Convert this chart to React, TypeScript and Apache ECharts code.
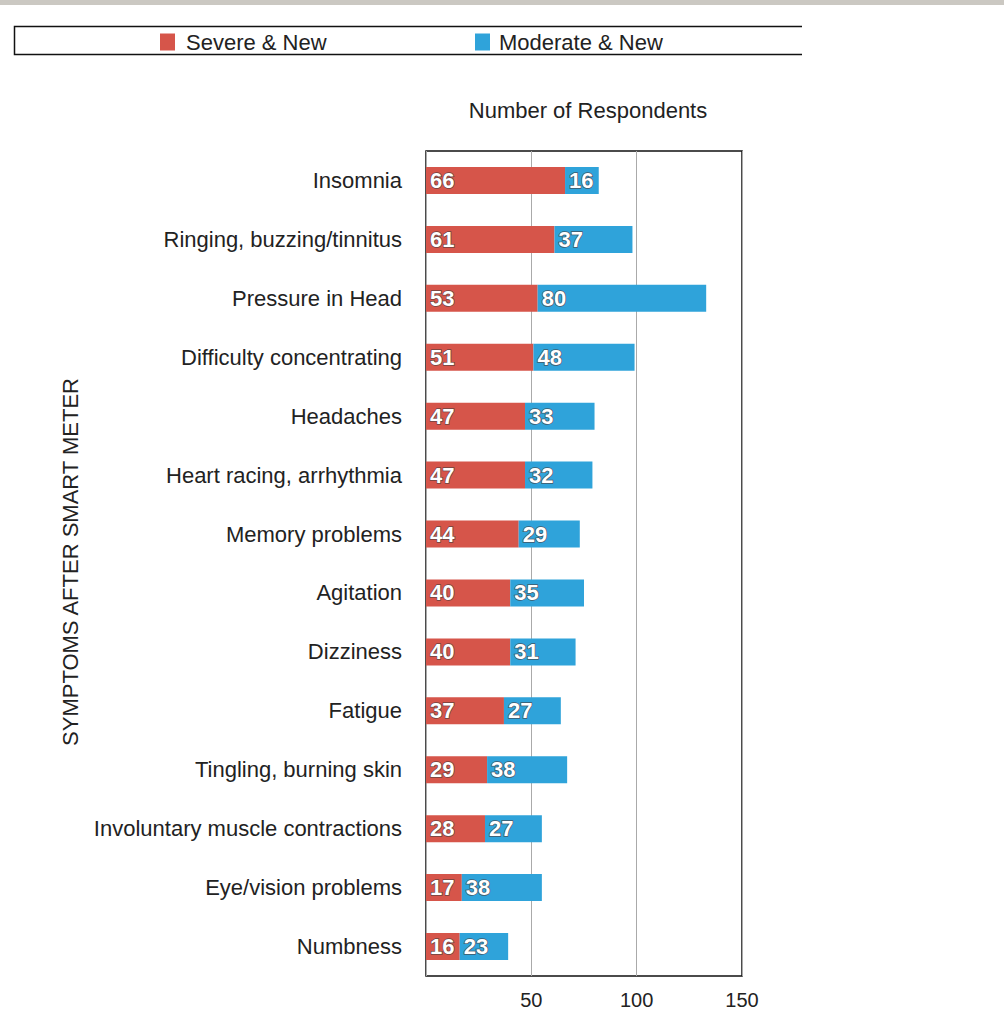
import React, { useEffect, useRef } from "react";
import * as echarts from "echarts";

const categories = [
  "Insomnia",
  "Ringing, buzzing/tinnitus",
  "Pressure in Head",
  "Difficulty concentrating",
  "Headaches",
  "Heart racing, arrhythmia",
  "Memory problems",
  "Agitation",
  "Dizziness",
  "Fatigue",
  "Tingling, burning skin",
  "Involuntary muscle contractions",
  "Eye/vision problems",
  "Numbness",
];
const severeNew = [66, 61, 53, 51, 47, 47, 44, 40, 40, 37, 29, 28, 17, 16];
const moderateNew = [16, 37, 80, 48, 33, 32, 29, 35, 31, 27, 38, 27, 38, 23];
const xTicks = { min: 0, max: 150, interval: 50 };

const FONT = "'Liberation Sans', Arial, sans-serif";
const RED = "#d6554a";
const BLUE = "#2fa3da";

export default function App() {
  const ref = useRef<HTMLDivElement>(null);
  useEffect(() => {
    document.body.style.margin = "0";
    const chart = echarts.init(ref.current!, undefined, { renderer: "svg" });
    const barLabel = {
      show: true,
      position: "insideLeft",
      distance: 4,
      color: "#fff",
      fontSize: 22,
      fontWeight: "bold",
      fontFamily: "'Liberation Sans Narrow', 'Liberation Sans', Arial, sans-serif",
      textBorderColor: "rgba(70,60,60,0.75)",
      textBorderWidth: 1.5,
    };
    chart.setOption({
      animation: false,
      backgroundColor: "#fff",
      title: {
        text: "Number of Respondents",
        left: 583,
        textAlign: "center",
        top: 94,
        textStyle: { fontSize: 22, fontWeight: "normal", color: "#222", fontFamily: FONT },
      },
      legend: [
        {
          data: ["Severe & New"],
          left: 155,
          top: 26,
          icon: "rect",
          itemWidth: 15,
          itemHeight: 17,
          textStyle: { fontSize: 22, color: "#222", fontFamily: FONT, padding: [0, 0, 0, 6] },
        },
        {
          data: ["Moderate & New"],
          left: 470,
          top: 26,
          icon: "rect",
          itemWidth: 15,
          itemHeight: 17,
          textStyle: { fontSize: 22, color: "#222", fontFamily: FONT, padding: [0, 0, 0, 4] },
        },
      ],
      graphic: [
        {
          type: "rect",
          shape: { x: 0, y: 0, width: 1004, height: 5 },
          style: { fill: "#cbc8c2" },
        },
        {
          type: "polyline",
          shape: { points: [[802, 26.5], [14.5, 26.5], [14.5, 54.5], [802, 54.5]] },
          style: { stroke: "#111", lineWidth: 1.5, fill: "none" },
        },
        {
          type: "text",
          x: 70,
          y: 562,
          rotation: Math.PI / 2,
          style: {
            text: "SYMPTOMS AFTER SMART METER",
            fontSize: 22,
            fill: "#222",
            fontFamily: FONT,
            align: "center",
            verticalAlign: "middle",
          },
        },
      ],
      grid: {
        left: 426,
        top: 151,
        width: 316,
        height: 825,
        show: true,
        borderColor: "#111",
        borderWidth: 1.5,
        containLabel: false,
      },
      xAxis: {
        type: "value",
        min: xTicks.min,
        max: xTicks.max,
        interval: xTicks.interval,
        axisLine: { show: false },
        axisTick: { show: false },
        splitLine: { show: true, lineStyle: { color: "#aaa", width: 1 } },
        axisLabel: {
          showMinLabel: false,
          fontSize: 20,
          color: "#222",
          fontFamily: FONT,
          margin: 14,
        },
      },
      yAxis: {
        type: "category",
        data: categories,
        inverse: true,
        axisLine: { show: false },
        axisTick: { show: false },
        axisLabel: { fontSize: 22, color: "#222", fontFamily: FONT, margin: 24 },
      },
      series: [
        {
          name: "Severe & New",
          type: "bar",
          stack: "total",
          data: severeNew,
          barWidth: 27,
          itemStyle: { color: RED },
          label: barLabel,
        },
        {
          name: "Moderate & New",
          type: "bar",
          stack: "total",
          data: moderateNew,
          barWidth: 27,
          itemStyle: { color: BLUE },
          label: barLabel,
        },
      ],
    });
    return () => chart.dispose();
  }, []);
  return <div ref={ref} style={{ width: 1004, height: 1012 }} />;
}
